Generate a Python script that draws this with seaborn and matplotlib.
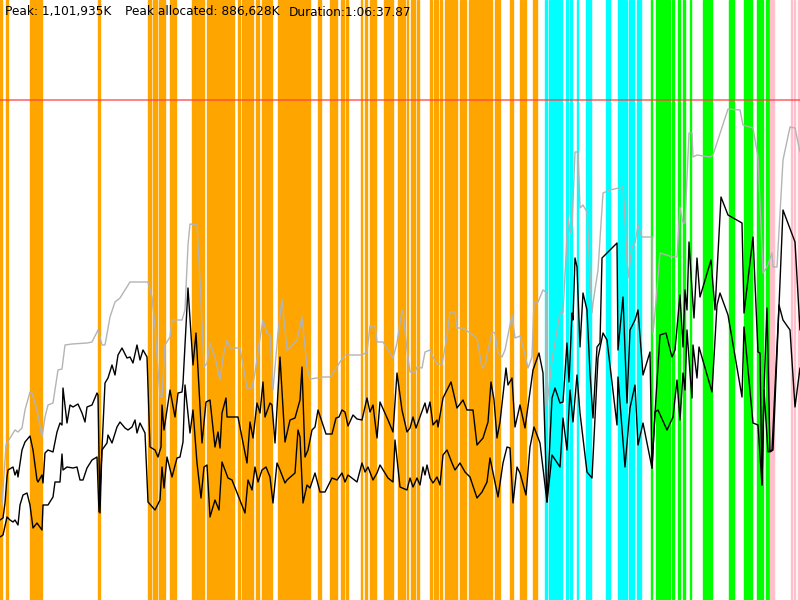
import numpy as np
import pandas as pd
import matplotlib
matplotlib.use("Agg")
import matplotlib.pyplot as plt
import seaborn as sns

# ── Data (screen units, 800 x 600, y grows downward) ─────────
heap_x = [2, 6, 10, 15, 18, 22, 25, 30, 32, 37, 42, 45, 48, 53, 58, 62, 65, 72, 87, 92,
          98, 102, 105, 110, 115, 120, 130, 148, 152, 155, 160, 162, 165, 170, 172, 182,
          185, 188, 190, 197, 200, 204, 207, 210, 215, 220, 223, 227, 230, 240, 247, 252,
          255, 260, 263, 267, 270, 273, 278, 282, 287, 290, 297, 302, 307, 310, 317, 323,
          330, 335, 340, 345, 362, 367, 370, 375, 377, 383, 393, 397, 402, 403, 407, 410,
          415, 417, 422, 425, 430, 433, 437, 442, 447, 450, 455, 457, 463, 470, 477, 482,
          485, 492, 495, 498, 502, 505, 512, 515, 520, 523, 528, 532, 534, 538, 543, 546,
          547, 552, 560, 563, 568, 570, 572, 575, 578, 580, 583, 587, 592, 593, 598, 603,
          610, 623, 625, 628, 632, 635, 638, 642, 652, 653, 655, 660, 673, 677, 680, 683,
          685, 689, 692, 693, 697, 710, 713, 728, 740, 743, 753, 758, 763, 767, 772, 773,
          777, 783, 790, 795, 800]
heap_y = [505, 445, 438, 430, 432, 428, 410, 392, 393, 410, 437, 417, 405, 403, 370, 369,
          345, 344, 343, 342, 330, 345, 345, 317, 302, 298, 282, 282, 297, 327, 397, 397,
          345, 337, 320, 320, 310, 245, 224, 225, 280, 367, 363, 343, 357, 380, 357, 340,
          348, 348, 388, 388, 373, 338, 320, 333, 335, 390, 333, 299, 350, 348, 340, 317,
          367, 379, 378, 377, 377, 370, 362, 355, 355, 352, 326, 326, 342, 342, 358, 343,
          310, 312, 350, 372, 372, 367, 368, 352, 350, 357, 364, 364, 337, 312, 312, 328,
          328, 333, 338, 368, 365, 332, 333, 353, 357, 350, 315, 338, 336, 347, 368, 357,
          302, 302, 290, 292, 405, 360, 313, 313, 217, 233, 227, 152, 152, 208, 205, 212,
          313, 303, 270, 193, 190, 187, 220, 278, 247, 243, 225, 237, 237, 333, 313, 253,
          257, 257, 207, 223, 223, 133, 133, 157, 155, 157, 155, 109, 110, 125, 128, 157,
          273, 267, 253, 267, 267, 160, 127, 128, 152]

before_x = [0, 3, 5, 7, 8, 13, 15, 17, 18, 22, 25, 30, 33, 37, 38, 42, 43, 45, 48, 53, 57,
            60, 62, 63, 67, 70, 73, 78, 82, 85, 87, 92, 97, 98, 100, 102, 105, 108, 112,
            115, 118, 122, 127, 130, 133, 137, 140, 143, 147, 150, 155, 158, 161, 162, 164,
            170, 175, 178, 182, 183, 188, 193, 196, 202, 206, 210, 215, 218, 220, 222, 226,
            227, 238, 247, 250, 253, 257, 260, 263, 265, 270, 272, 275, 280, 285, 290, 295,
            300, 302, 305, 308, 312, 315, 318, 322, 326, 332, 336, 339, 342, 345, 348, 353,
            357, 362, 367, 370, 373, 377, 380, 388, 393, 397, 402, 407, 410, 413, 416, 420,
            425, 427, 430, 433, 437, 438, 443, 451, 457, 463, 467, 473, 477, 483, 488, 491,
            494, 497, 500, 506, 508, 512, 515, 520, 525, 533, 539, 543, 547, 552, 555, 560,
            563, 567, 569, 572, 573, 575, 577, 580, 583, 587, 590, 593, 597, 600, 602, 617,
            618, 623, 627, 630, 635, 638, 643, 650, 652, 655, 660, 666, 672, 675, 680, 683,
            685, 687, 689, 692, 694, 697, 700, 711, 715, 721, 728, 742, 744, 753, 758, 760,
            762, 764, 767, 770, 773, 783, 795, 800]
before_y = [520, 518, 503, 477, 470, 467, 475, 470, 477, 450, 442, 436, 450, 480, 482, 475,
            483, 453, 450, 452, 432, 423, 425, 388, 423, 405, 407, 404, 413, 422, 407, 405,
            393, 395, 513, 448, 383, 378, 365, 375, 355, 348, 358, 357, 363, 345, 360, 350,
            357, 447, 450, 457, 447, 405, 430, 390, 417, 393, 392, 383, 288, 365, 333, 443,
            402, 400, 447, 432, 448, 413, 398, 417, 417, 463, 422, 438, 403, 413, 382, 417,
            403, 405, 443, 357, 442, 420, 418, 400, 367, 457, 450, 430, 427, 410, 422, 434,
            434, 418, 417, 410, 412, 426, 415, 419, 420, 398, 412, 405, 438, 402, 420, 432,
            373, 410, 432, 428, 417, 428, 417, 403, 413, 402, 425, 420, 427, 398, 382, 408,
            400, 410, 410, 445, 438, 422, 382, 400, 438, 422, 368, 385, 378, 427, 405, 428,
            370, 353, 373, 502, 398, 388, 403, 402, 343, 382, 313, 320, 258, 267, 347, 293,
            310, 373, 418, 347, 343, 258, 243, 350, 297, 403, 330, 320, 310, 375, 352, 468,
            413, 335, 333, 357, 350, 295, 347, 290, 310, 242, 290, 318, 258, 297, 260, 310,
            197, 215, 223, 313, 237, 352, 353, 485, 390, 308, 452, 450, 210, 242, 330]

after_x = [0, 3, 7, 10, 13, 15, 18, 20, 23, 27, 30, 33, 37, 42, 43, 48, 53, 55, 60, 62, 63,
           67, 73, 77, 80, 83, 87, 92, 97, 99, 102, 107, 108, 112, 117, 120, 125, 128, 132,
           135, 137, 140, 145, 148, 155, 160, 162, 164, 167, 172, 177, 180, 183, 185, 190,
           193, 197, 201, 204, 207, 210, 215, 219, 222, 228, 232, 245, 248, 252, 255, 258,
           262, 266, 270, 273, 277, 280, 285, 287, 295, 298, 300, 303, 307, 310, 315, 320,
           325, 332, 337, 342, 345, 348, 357, 362, 365, 368, 373, 377, 380, 385, 388, 393,
           395, 400, 407, 410, 413, 417, 420, 423, 425, 427, 430, 433, 437, 440, 443, 447,
           452, 455, 460, 465, 470, 477, 482, 487, 490, 498, 503, 507, 510, 513, 517, 520,
           526, 530, 534, 540, 547, 552, 560, 563, 567, 570, 573, 577, 580, 587, 592, 598,
           603, 607, 617, 618, 625, 630, 635, 638, 643, 652, 655, 658, 667, 673, 677, 680,
           683, 685, 687, 690, 692, 693, 697, 699, 712, 717, 720, 728, 742, 744, 753, 758,
           762, 764, 768, 772, 779, 783, 790, 795, 800]
after_y = [537, 535, 517, 520, 522, 520, 525, 505, 495, 493, 505, 528, 523, 530, 505, 505,
           497, 482, 482, 454, 470, 467, 468, 467, 480, 480, 468, 460, 457, 512, 450, 443,
           435, 443, 427, 422, 428, 430, 427, 420, 433, 423, 433, 502, 510, 500, 467, 488,
           457, 477, 458, 457, 442, 385, 433, 410, 463, 498, 467, 465, 517, 500, 510, 462,
           478, 480, 513, 480, 490, 467, 482, 470, 467, 477, 503, 463, 470, 483, 480, 473,
           430, 437, 503, 485, 488, 473, 492, 492, 478, 480, 473, 482, 475, 482, 463, 472,
           467, 480, 473, 465, 473, 478, 482, 440, 487, 490, 478, 487, 478, 485, 467, 475,
           465, 478, 483, 477, 485, 455, 450, 463, 470, 463, 472, 477, 498, 492, 482, 458,
           497, 463, 447, 448, 503, 467, 473, 495, 447, 427, 443, 502, 455, 467, 418, 450,
           390, 422, 375, 413, 472, 478, 358, 333, 340, 425, 377, 467, 408, 385, 445, 423,
           468, 412, 410, 430, 417, 380, 420, 373, 390, 330, 373, 398, 345, 378, 347, 392,
           305, 293, 315, 397, 327, 423, 425, 485, 390, 452, 450, 305, 320, 330, 407, 368]

# GC event spans (start, end)
young_gc = [(0, 2), (6, 8), (30, 42), (98, 100), (148, 151), (153, 157), (159, 160),
            (161, 165), (170, 176), (192, 204), (207, 234), (238, 240), (242, 253),
            (256, 259), (262, 272), (278, 289), (290, 291), (292, 293), (294, 298),
            (299, 307), (308, 310), (318, 321), (330, 337), (341, 344), (346, 348),
            (361, 362), (365, 367), (370, 376), (384, 385), (386, 393), (398, 405),
            (407, 408), (411, 415), (417, 419), (430, 432), (434, 438), (440, 442),
            (445, 457), (460, 466), (469, 492), (495, 500), (510, 513), (520, 522),
            (523, 526), (533, 537)]
mixed_gc = [(545, 547), (549, 562), (566, 568), (570, 572), (577, 578), (586, 591),
            (606, 610), (618, 625), (626, 627), (629, 632), (633, 634), (637, 641)]
full_gc = [(651, 652), (656, 670), (672, 674), (678, 680), (683, 685), (690, 691),
           (703, 708), (709, 712), (729, 734), (744, 752), (757, 763), (766, 770)]
other_gc = [(770, 774), (791, 792), (794, 795), (798, 799)]

limit_y = 100
header = ["Peak: 1,101,935K", "Peak allocated: 886,628K", "Duration:1:06:37.87"]
header_x = [5, 125, 289]

# ── Style ────────────────────────────────────────────────────
sns.set_style("white")
plt.rcParams["font.family"] = ["DejaVu Sans"]

fig = plt.figure(figsize=(8, 6), dpi=100)
ax = fig.add_axes([0, 0, 1, 1])

for spans, color in [(young_gc, "#FFA500"), (mixed_gc, "#00FFFF"),
                     (full_gc, "#00FF00"), (other_gc, "#FFC0CB")]:
    for a, b in spans:
        ax.axvspan(a, b, facecolor=color, edgecolor=color, lw=1.0, zorder=1)

ax.axhline(limit_y, color="#FF4040", alpha=0.7, lw=1.3, zorder=2)

heap = pd.DataFrame({"x": heap_x, "y": heap_y})
before = pd.DataFrame({"x": before_x, "y": before_y})
after = pd.DataFrame({"x": after_x, "y": after_y})

sns.lineplot(data=heap, x="x", y="y", sort=False, estimator=None,
             color="#B4B4B4", lw=1.0, ax=ax, zorder=3)
sns.lineplot(data=before, x="x", y="y", sort=False, estimator=None,
             color="black", lw=1.0, ax=ax, zorder=4)
sns.lineplot(data=after, x="x", y="y", sort=False, estimator=None,
             color="black", lw=1.0, ax=ax, zorder=4)

for label, tx in zip(header, header_x):
    ax.text(tx, 12, label, fontsize=8.7, color="black", va="center", ha="left", zorder=5)

ax.set_xlim(0, 800)
ax.set_ylim(600, 0)
ax.set_axis_off()

fig.savefig("out.png", dpi=100)
